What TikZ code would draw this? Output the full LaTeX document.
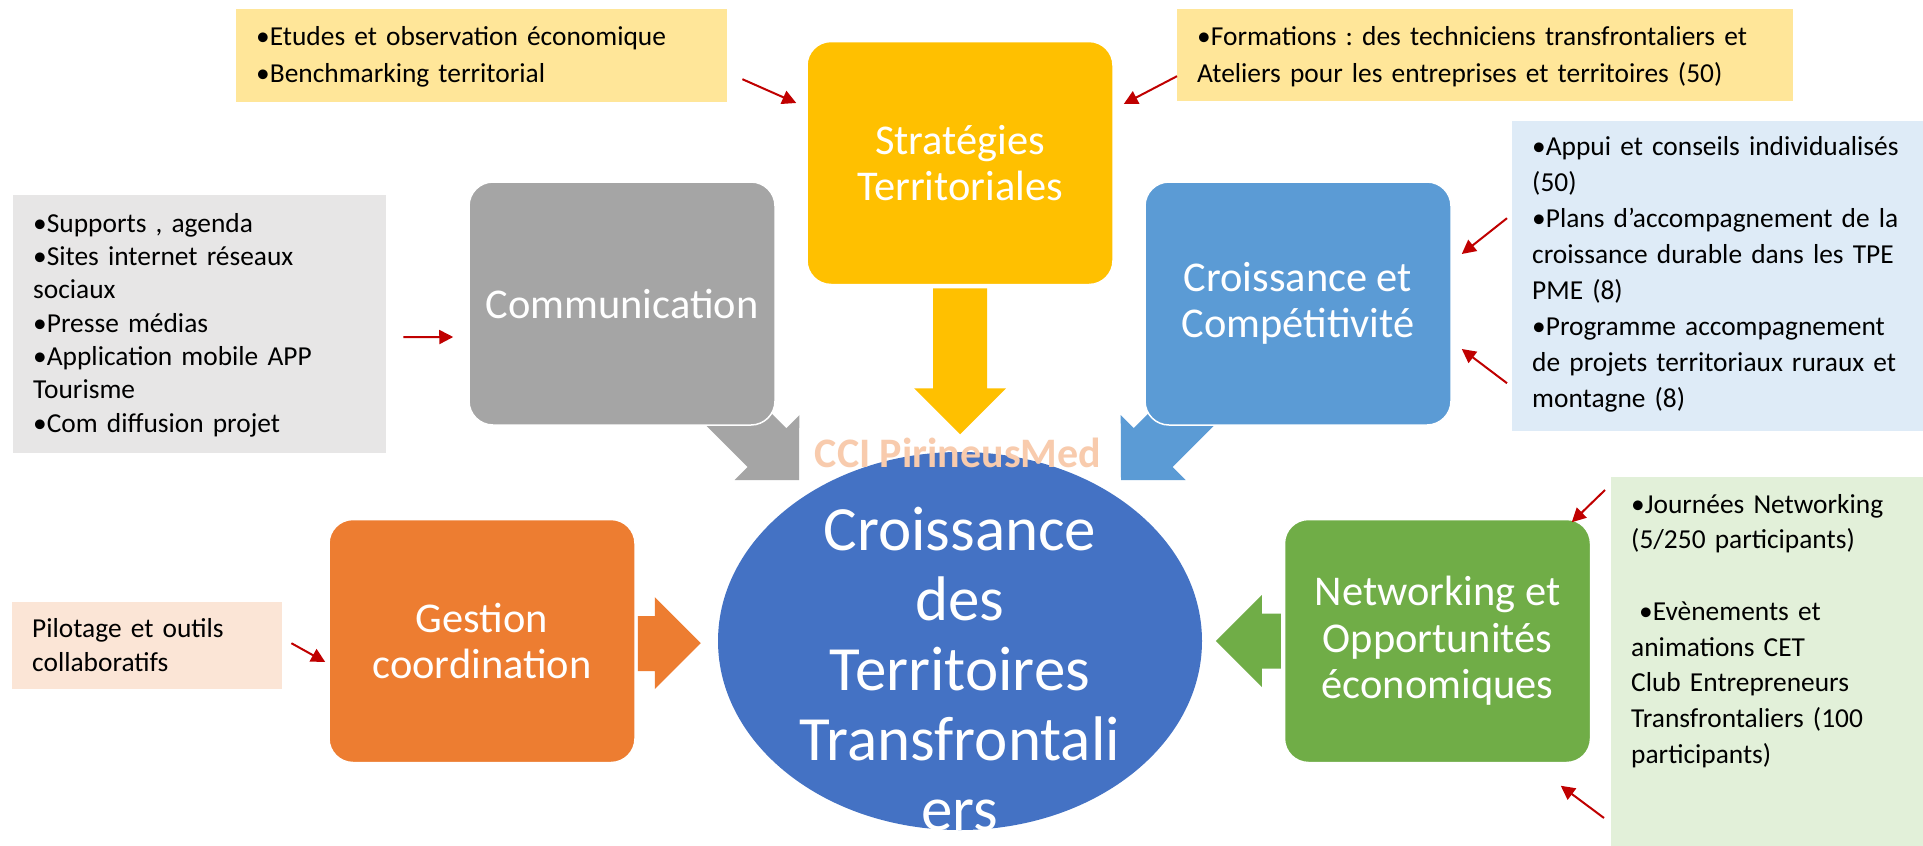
\documentclass[tikz,border=0pt]{standalone}
\usepackage{fontspec}
\setmainfont{Carlito}
\usepackage{tikz}
\usetikzlibrary{shapes.geometric, arrows.meta, positioning, calc}
\frenchspacing
\definecolor{stratgold}{HTML}{FFC000}
\definecolor{comgray}{HTML}{A5A5A5}
\definecolor{crblue}{HTML}{5B9BD5}
\definecolor{gesorange}{HTML}{ED7D31}
\definecolor{netgreen}{HTML}{70AD47}
\definecolor{coreblue}{HTML}{4472C4}
\definecolor{notebeige}{HTML}{FFE699}
\definecolor{notegray}{HTML}{E7E6E6}
\definecolor{noteblue}{HTML}{DEEBF7}
\definecolor{notepeach}{HTML}{FBE5D6}
\definecolor{notegreen}{HTML}{E2F0D9}
\definecolor{ccipeach}{HTML}{F8CBAD}
\definecolor{pointred}{HTML}{C00000}
\tikzset{
	mainbox/.style={rectangle, rounded corners=24pt, draw=white, line width=1.5pt, minimum width=306pt, minimum height=243pt, align=center, text=white, font=\fontsize{42.4}{46.5}\selectfont},
	notebox/.style={rectangle, anchor=north west, inner xsep=20pt, inner ysep=0pt, align=left, text=black, font=\fontsize{27.4}{36}\selectfont},
	pointer/.style={draw=pointred, line width=2pt, -{Triangle[length=14pt, width=14pt]}}
}

\begin{document}
\begin{tikzpicture}[x=1pt, y=-1pt]
		\useasboundingbox (0,0) rectangle (1923,846);
		\fill[white] (0,0) rectangle (1923,846);
		\clip (0,0) rectangle (1923,846);
		
		% Flèches diagonales (sous les blocs)
		\coordinate (comtip) at (799,480);
		\coordinate (crtip) at (1121,480);
		\fill[comgray] (comtip) -- ++(-64.5,0) -- ++(13,-13) -- ++(-56.5,-56.5) -- ++(38.8,-38.8) -- ++(56.5,56.5) -- ++(13,-13) -- cycle;
		\fill[crblue] (crtip) -- ++(64.5,0) -- ++(-13,-13) -- ++(56.5,-56.5) -- ++(-38.8,-38.8) -- ++(-56.5,56.5) -- ++(-13,-13) -- cycle;
		
		% Blocs principaux
		\node (strat) [mainbox, fill=stratgold] at (960,163) {Stratégies\\Territoriales};
		\node (com) [mainbox, fill=comgray] at (622,303.5) {Communication};
		\node (cr) [mainbox, fill=crblue] at (1298,303.5) {Croissance et\\Compétitivité};
		\node (ges) [mainbox, fill=gesorange] at (482,641) {Gestion\\coordination};
		\node (net) [mainbox, fill=netgreen] at (1437.5,641) {Networking et\\Opportunités\\économiques};
		
		% Flèches pleines
		\fill[stratgold] ($(strat.south)+(-27,3)$) -- ++(54,0) -- ++(0,100) -- ++(19,0) -- ++(-46,46) -- ++(-46,-46) -- ++(19,0) -- cycle;
		\fill[gesorange] ($(ges.east)+(2,-25)$) -- ++(17,0) -- ++(0,-19) -- ++(46,46) -- ++(-46,46) -- ++(0,-18) -- ++(-17,0) -- cycle;
		\fill[netgreen] ($(net.west)+(-3,-27.5)$) -- ++(-19,0) -- ++(0,-18.5) -- ++(-46,46) -- ++(46,46) -- ++(0,-18.5) -- ++(19,0) -- cycle;
		
		% Cible centrale
		\node (core) [ellipse, fill=coreblue, minimum width=484pt, minimum height=378pt, inner sep=0pt, text width=338pt, align=center, text height=0pt, text depth=182pt, text=white, font=\fontsize{63}{70}\selectfont] at (960,641) {Croissance\\des\\Territoires\\Transfrontali\\ers};
		\node (cci) [text=ccipeach, font=\bfseries\fontsize{42}{46}\selectfont] at (958,453) {CCI PirineusMed};
		
		% Actions
		\node (tlnote) [notebox, fill=notebeige, text width=451pt, text height=36pt, text depth=57pt, font=\fontsize{27.4}{37}\selectfont] at (236,9) {•Etudes et observation économique\\•Benchmarking territorial};
		\node (trnote) [notebox, fill=notebeige, text width=576pt, text height=36pt, text depth=56pt, font=\fontsize{27.4}{37}\selectfont] at (1177,9) {•Formations : des techniciens transfrontaliers et\\Ateliers pour les entreprises et territoires (50)};
		\node (comnote) [notebox, fill=notegray, text width=333pt, text height=37pt, text depth=221pt, font=\fontsize{27.4}{33.3}\selectfont] at (13,195) {•Supports , agenda\\•Sites internet réseaux\\sociaux\\•Presse médias\\•Application mobile APP\\Tourisme\\•Com diffusion projet};
		\node (crnote) [notebox, fill=noteblue, text width=400pt, text height=34pt, text depth=276pt] at (1512,121) {•Appui et conseils individualisés\\(50)\\•Plans d’accompagnement de la\\croissance durable dans les TPE\\PME (8)\\•Programme accompagnement\\de projets territoriaux ruraux et\\montagne (8)};
		\node (gesnote) [notebox, fill=notepeach, text width=230pt, text height=35pt, text depth=52pt, font=\fontsize{27.4}{34}\selectfont] at (12,602) {Pilotage et outils\\collaboratifs};
		\node (netnote) [notebox, fill=notegreen, text width=300pt, text height=36pt, text depth=400pt, font=\fontsize{27.4}{35.7}\selectfont] at (1611,477) {•Journées Networking\\(5/250 participants)\\[35.7pt]\hspace*{8pt}•Evènements et\\animations CET\\Club Entrepreneurs\\Transfrontaliers (100\\participants)};
		
		% Liens
		\draw [pointer] ($(tlnote.east)+(15,23.5)$) -- ($(strat.west)+(-10,-60)$);
		\draw [pointer] ($(trnote.west)+(0,21)$) -- ($(strat.east)+(10,-59)$);
		\draw [pointer] ($(comnote.east)+(17,13)$) -- ($(com.west)+(-15,33.5)$);
		\draw [pointer] ($(crnote.west)+(-5,-58)$) -- ($(cr.east)+(10,-49.5)$);
		\draw [pointer] ($(crnote.west)+(-5,107)$) -- ($(cr.east)+(10,45.5)$);
		\draw [pointer] ($(gesnote.east)+(9,-2.5)$) -- ($(ges.west)+(-3,21)$);
		\draw [pointer] ($(netnote.north west)+(-6,13)$) -- ($(net.north east)+(-19.5,3.5)$);
		\draw [pointer] ($(netnote.north west)+(-7,341)$) -- ($(net.south east)+(-30.5,22.5)$);
	\end{tikzpicture}
\end{document}
